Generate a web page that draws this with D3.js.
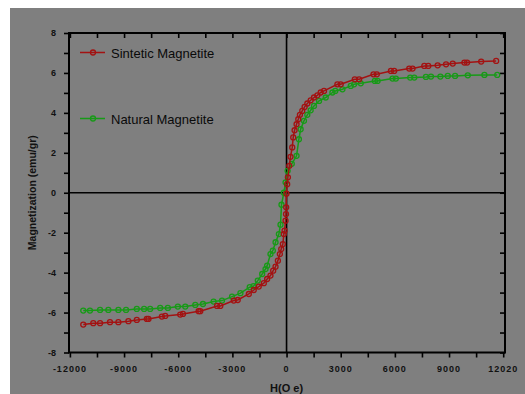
<!DOCTYPE html>
<html>
<head>
<meta charset="utf-8">
<script src="https://cdn.jsdelivr.net/npm/d3@7"></script>
<style>
  body { margin: 0; background: #fff; }
  svg { display: block; }
  text { font-family: "Liberation Sans", Arial, sans-serif; fill: #111; }
</style>
</head>
<body>
<svg width="525" height="394"></svg>
<script>
// field values (Oe) and magnetization (emu/gr)
const sinteticH = [-11260,-10705,-10330,-9780,-9315,-8760,-8295,-7740,-7650,-6905,-6720,-5890,-5740,-4870,-4780,-3850,-3670,-2925,-2705,-2090,-1815,-1540,-1260,-1075,-890,-740,-610,-480,-370,-295,-205,-150,-110,-55,-30,-20,-5,35,75,150,220,315,370,445,555,650,740,870,1000,1150,1335,1520,1705,1890,2075,2815,3000,3780,4020,4815,5000,5780,5960,6795,6980,7630,7850,8370,8835,9205,9850,10000,10780,11610];
const sinteticM = [-6.60,-6.53,-6.53,-6.48,-6.48,-6.43,-6.37,-6.32,-6.32,-6.20,-6.17,-6.10,-6.07,-5.93,-5.93,-5.67,-5.67,-5.40,-5.37,-5.07,-4.87,-4.70,-4.53,-4.32,-4.15,-3.90,-3.70,-3.40,-3.07,-2.82,-2.57,-2.07,-1.90,-1.40,-1.07,-0.73,-0.05,0.43,0.77,1.35,1.80,2.27,2.77,3.13,3.43,3.68,3.90,4.10,4.30,4.47,4.63,4.77,4.88,5.02,5.10,5.43,5.43,5.68,5.68,5.93,5.93,6.10,6.10,6.22,6.22,6.35,6.35,6.38,6.43,6.47,6.52,6.52,6.57,6.60];

const naturalH = [-11260,-10890,-10330,-9870,-9315,-8890,-8295,-7890,-7555,-7000,-6575,-6020,-5610,-5055,-4630,-4040,-3575,-3020,-2555,-2040,-1830,-1595,-1350,-1165,-1075,-890,-760,-610,-425,-335,-280,-150,-55,60,290,555,685,780,965,1150,1335,1520,1800,2170,2540,2700,3095,3555,3740,4110,4890,5040,5870,6055,6850,7075,7720,8000,8520,8930,9335,10040,10960,11670];
const naturalM = [-5.90,-5.90,-5.87,-5.87,-5.87,-5.87,-5.82,-5.82,-5.82,-5.77,-5.77,-5.70,-5.70,-5.62,-5.57,-5.45,-5.40,-5.20,-5.03,-4.73,-4.68,-4.40,-4.07,-3.82,-3.65,-3.07,-2.90,-2.48,-2.07,-1.60,-0.60,0.00,0.52,1.10,1.45,1.85,2.68,3.18,3.60,3.90,4.13,4.35,4.60,4.77,5.02,5.10,5.18,5.35,5.43,5.48,5.60,5.60,5.72,5.72,5.77,5.77,5.80,5.82,5.82,5.85,5.85,5.88,5.90,5.90];

const xTicks = [-12000,-9000,-6000,-3000,0,3000,6000,9000,12000];
const xTickLabels = ["-12000","-9000","-6000","-3000","0","3000","6000","9000","12020"];
const yTicks = [-8,-6,-4,-2,0,2,4,6,8];

const series = [
  {name: "Natural Magnetite",  color: "#179a17", h: naturalH,  m: naturalM,  ly: 118.5},
  {name: "Sintetic Magnetite", color: "#a31212", h: sinteticH, m: sinteticM, ly: 52.5}
];

const svg = d3.select("svg");
const W = +svg.attr("width"), H = +svg.attr("height");

// gray card the figure sits on
svg.append("rect").attr("x", 10).attr("y", 8)
   .attr("width", W - 10).attr("height", H - 8).attr("fill", "#7f7f7f");

const L = 69, R = 505, T = 33, B = 352.5;
const x = d3.scaleLinear().domain([-12050, 12100]).range([L, R]);
const y = d3.scaleLinear().domain([-8, 8]).range([B, T]);

const minorX = d3.range(-12000, 12001, 1500);
const minorY = d3.range(-8, 8.01, 1);

function ticks(g) {
  g.select(".domain").remove();
  g.selectAll("line").attr("stroke", "#000").attr("stroke-width", 1.6);
}

// bottom and left: ticks outward
svg.append("g").attr("transform", `translate(0,${B})`)
   .call(d3.axisBottom(x).tickValues(minorX).tickSize(5).tickFormat("")).call(ticks);
svg.append("g").attr("transform", `translate(${L},0)`)
   .call(d3.axisLeft(y).tickValues(minorY).tickSize(5).tickFormat("")).call(ticks);

// top and right: ticks inward
svg.append("g").attr("transform", `translate(0,${T})`)
   .call(d3.axisBottom(x).tickValues(minorX).tickSize(5).tickFormat("")).call(ticks);
svg.append("g").attr("transform", `translate(${R},0)`)
   .call(d3.axisLeft(y).tickValues(minorY).tickSize(5).tickFormat("")).call(ticks);

// tick labels
svg.append("g").selectAll("text").data(xTicks).join("text")
   .attr("x", d => x(d)).attr("y", 372)
   .attr("text-anchor", "middle")
   .style("font-size", "9px").style("font-weight", "bold").style("letter-spacing", "1px")
   .text((d, i) => xTickLabels[i]);

svg.append("g").selectAll("text").data(yTicks).join("text")
   .attr("x", 56).attr("y", d => y(d) + 3)
   .attr("text-anchor", "end")
   .style("font-size", "9px").style("font-weight", "bold")
   .text(d => d);

// crosshair at the origin
svg.append("line").attr("x1", x(0)).attr("x2", x(0)).attr("y1", T).attr("y2", B)
   .attr("stroke", "#000").attr("stroke-width", 1.6);
svg.append("line").attr("x1", L).attr("x2", R).attr("y1", y(0)).attr("y2", y(0))
   .attr("stroke", "#000").attr("stroke-width", 1.6);

// curves
const line = d3.line().x(d => x(d[0])).y(d => y(d[1]));
series.forEach(s => {
  const pts = s.h.map((v, i) => [v, s.m[i]]);
  const g = svg.append("g");
  g.append("path").datum(pts).attr("d", line)
   .attr("fill", "none").attr("stroke", s.color).attr("stroke-width", 1.5);
  g.selectAll("circle").data(pts).join("circle")
   .attr("cx", d => x(d[0])).attr("cy", d => y(d[1])).attr("r", 2.5)
   .attr("fill", "none").attr("stroke", s.color).attr("stroke-width", 1.3);
});

// frame
svg.append("rect").attr("x", L).attr("y", T).attr("width", R - L).attr("height", B - T)
   .attr("fill", "none").attr("stroke", "#000").attr("stroke-width", 2);

// legend
series.forEach(s => {
  const lg = svg.append("g");
  lg.append("line").attr("x1", 80).attr("x2", 105).attr("y1", s.ly).attr("y2", s.ly)
    .attr("stroke", s.color).attr("stroke-width", 1.5);
  lg.append("circle").attr("cx", 93).attr("cy", s.ly).attr("r", 2.5)
    .attr("fill", "none").attr("stroke", s.color).attr("stroke-width", 1.3);
  lg.append("text").attr("x", 111).attr("y", s.ly + 5)
    .style("font-size", "13px").style("fill", "#0a0a0a").text(s.name);
});

// axis titles
svg.append("text")
   .attr("transform", `translate(36,${y(0)}) rotate(-90)`)
   .attr("text-anchor", "middle")
   .style("font-size", "10.5px").style("font-weight", "bold")
   .text("Magnetization (emu/gr)");

svg.append("text").attr("x", x(0)).attr("y", 392)
   .attr("text-anchor", "middle")
   .style("font-size", "11px").style("font-weight", "bold")
   .text("H(O e)");
</script>
</body>
</html>
